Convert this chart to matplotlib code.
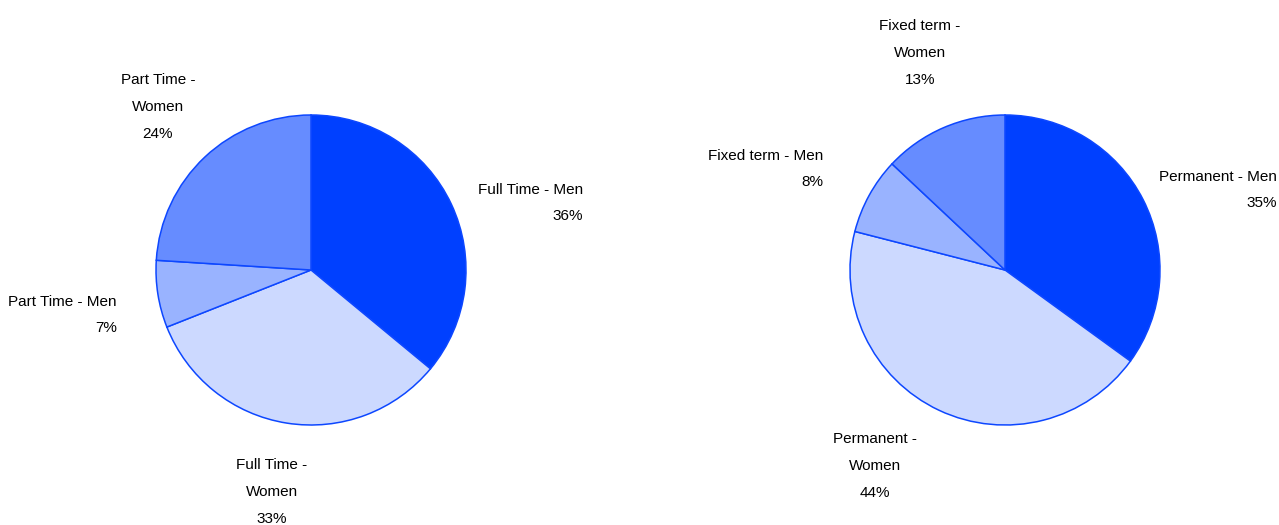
import matplotlib.pyplot as plt

plt.rcParams['font.family'] = ['Liberation Sans Narrow', 'Liberation Sans', 'DejaVu Sans']

# left pie: working time
time_labels = ['Full Time - Men', 'Full Time -\nWomen', 'Part Time - Men', 'Part Time -\nWomen']
time_values = [36, 33, 7, 24]

# right pie: contract type
contract_labels = ['Permanent - Men', 'Permanent -\nWomen', 'Fixed term - Men', 'Fixed term -\nWomen']
contract_values = [35, 44, 8, 13]

colors = ['#0040ff', '#ccd9ff', '#99b3ff', '#668cff']
edge = '#0d47ff'

W, H = 1279, 525
R = 155.0  # pie radius in px

fig = plt.figure(figsize=(W / 100, H / 100), dpi=100)

# label anchors (px): x, y of block centre, horizontal alignment
left_pos = [(583, 203, 'right'), (272, 492, 'center'), (117, 315, 'right'), (158, 107, 'center')]
right_pos = [(1277, 190, 'right'), (875, 466, 'center'), (823, 169, 'right'), (920, 53, 'center')]

def draw(x0, x1, cx, cy, labels, values, pos):
    # axes spanning pixel columns x0..x1, full height; pie centred at (cx, cy) px from top-left
    ax = fig.add_axes([x0 / W, 0, (x1 - x0) / W, 1])
    ax.pie(values, colors=colors, startangle=90, counterclock=False, radius=1.0,
           wedgeprops=dict(edgecolor=edge, linewidth=1.1))
    ax.set_aspect('auto')
    ax.set_xlim(-(cx - x0) / R, (x1 - cx) / R)
    ax.set_ylim(-(H - cy) / R, cy / R)
    ax.axis('off')
    for lab, v, (x, y, ha) in zip(labels, values, pos):
        ax.text((x - cx) / R, (cy - y) / R, f'{lab}\n{v}%', ha=ha, va='center',
                multialignment=ha, fontsize=11, linespacing=2.15, color='#000000')
    return ax

draw(0, 639.5, 311, 270, time_labels, time_values, left_pos)
draw(639.5, 1279, 1005, 270, contract_labels, contract_values, right_pos)

fig.savefig('out.png', dpi=100)
